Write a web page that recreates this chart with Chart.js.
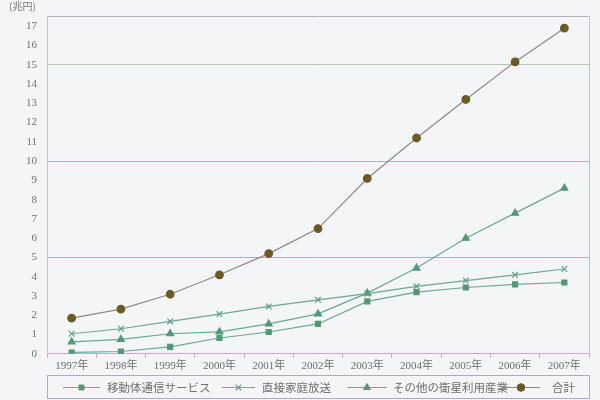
<!DOCTYPE html>
<html>
<head>
<meta charset="utf-8">
<script src="https://cdn.jsdelivr.net/npm/chart.js@4/dist/chart.umd.min.js"></script>
<style>
  html, body { margin: 0; padding: 0; background: #f4f5f6; }
  #wrap { width: 600px; height: 400px; }
</style>
</head>
<body>
<div id="wrap"><canvas id="chart"></canvas></div>
<script>
const years = ['1997年', '1998年', '1999年', '2000年', '2001年', '2002年', '2003年', '2004年', '2005年', '2006年', '2007年'];
const mobile = [0.07, 0.12, 0.36, 0.82, 1.13, 1.55, 2.72, 3.2, 3.44, 3.6, 3.7];
const directTv = [1.04, 1.3, 1.68, 2.06, 2.46, 2.8, 3.12, 3.5, 3.8, 4.1, 4.4];
const otherSat = [0.62, 0.75, 1.04, 1.14, 1.55, 2.07, 3.15, 4.45, 6.0, 7.3, 8.6];
const total = [1.85, 2.32, 3.09, 4.1, 5.2, 6.5, 9.1, 11.2, 13.2, 15.15, 16.9];
const yTicks = [0, 1, 2, 3, 4, 5, 6, 7, 8, 9, 10, 11, 12, 13, 14, 15, 16, 17];
const yMax = 17.5;

const serif = "'Liberation Serif', 'DejaVu Serif', 'Noto Sans CJK JP', serif";
const cjk = "'Noto Sans CJK JP', sans-serif";

// gridlines only at 5, 10, 15 and the top
const gridColors = { 5: '#cf9ccb', 10: '#cf9ccb', 15: '#b2c8b2', 17.5: '#b4aec0' };

// legend sample positions (line start, line length, text start)
const legendItems = [
  { x: 63, len: 37, tx: 107 },
  { x: 222, len: 33, tx: 262 },
  { x: 347, len: 40, tx: 393 },
  { x: 502, len: 38, tx: 552 }
];

new Chart(document.getElementById('chart'), {
  type: 'line',
  data: {
    labels: years,
    datasets: [
      {
        label: '移動体通信サービス',
        data: mobile,
        borderColor: '#6aa894',
        borderWidth: 1.2,
        pointStyle: 'rect',
        pointRadius: 3.5,
        pointBackgroundColor: '#4f9a72',
        pointBorderColor: '#4f9a72'
      },
      {
        label: '直接家庭放送',
        data: directTv,
        borderColor: '#6aa894',
        borderWidth: 1.2,
        pointStyle: 'crossRot',
        pointRadius: 4,
        pointBorderColor: '#5a9e8a',
        pointBorderWidth: 1.2
      },
      {
        label: 'その他の衛星利用産業',
        data: otherSat,
        borderColor: '#6aa894',
        borderWidth: 1.2,
        pointStyle: 'triangle',
        pointRadius: 4,
        pointBackgroundColor: '#4f9a78',
        pointBorderColor: '#4f9a78'
      },
      {
        label: '合計',
        data: total,
        borderColor: '#8c8a84',
        borderWidth: 1.2,
        pointStyle: 'circle',
        pointRadius: 3.8,
        pointBackgroundColor: '#6b5b22',
        pointBorderColor: '#6b5b22'
      }
    ]
  },
  options: {
    responsive: true,
    maintainAspectRatio: false,
    animation: false,
    layout: { padding: { left: 16, right: 11, top: -5, bottom: 25 } },
    plugins: {
      legend: { display: false },
      tooltip: { enabled: false },
      title: { display: false }
    },
    scales: {
      x: {
        offset: true,
        border: { color: '#cba6c9' },
        grid: {
          offset: true,
          drawOnChartArea: false,
          color: '#cba6c9',
          tickLength: 4
        },
        ticks: {
          color: '#6f6f6f',
          font: { family: serif, size: 11 },
          padding: 2,
          maxRotation: 0
        }
      },
      y: {
        min: 0,
        max: yMax,
        border: { color: '#c4c2cc' },
        afterBuildTicks: axis => {
          axis.ticks = yTicks.concat([yMax]).map(v => ({ value: v }));
        },
        grid: {
          drawTicks: false,
          color: c => gridColors[c.tick.value] || 'transparent'
        },
        ticks: {
          color: '#707070',
          padding: 10,
          font: { family: serif, size: 11 },
          callback: v => Number.isInteger(v) ? v : ''
        }
      }
    }
  },
  plugins: [{
    id: 'bg',
    beforeDraw(chart) {
      const ctx = chart.ctx;
      ctx.save();
      ctx.fillStyle = '#f4f5f6';
      ctx.fillRect(0, 0, chart.width, chart.height);
      ctx.restore();
    }
  }, {
    id: 'frameAndLegend',
    afterDraw(chart) {
      const ctx = chart.ctx;
      const area = chart.chartArea;
      ctx.save();
      // unit label
      ctx.fillStyle = '#777777';
      ctx.font = '10px ' + cjk;
      ctx.textBaseline = 'top';
      ctx.fillText('(兆円)', 9, 1);

      // right border of plot
      ctx.strokeStyle = '#c4c2cc';
      ctx.lineWidth = 1;
      ctx.beginPath();
      ctx.moveTo(area.right + 0.5, area.top);
      ctx.lineTo(area.right + 0.5, area.bottom);
      ctx.stroke();

      // legend frame
      const top = 375, bottom = 398;
      ctx.strokeStyle = '#b0a8c0';
      ctx.strokeRect(area.left + 0.5, top + 0.5, area.right - area.left, bottom - top);

      const cy = (top + bottom) / 2 + 1;
      chart.data.datasets.forEach((ds, i) => {
        const it = legendItems[i];
        ctx.strokeStyle = ds.borderColor;
        ctx.lineWidth = 1.2;
        ctx.beginPath();
        ctx.moveTo(it.x, cy);
        ctx.lineTo(it.x + it.len, cy);
        ctx.stroke();
        ctx.fillStyle = ds.pointBackgroundColor || ds.pointBorderColor;
        ctx.strokeStyle = ds.pointBorderColor;
        ctx.lineWidth = ds.pointBorderWidth || 1;
        Chart.helpers.drawPoint(ctx, {
          pointStyle: ds.pointStyle,
          radius: ds.pointRadius,
          borderWidth: ds.pointBorderWidth || 1
        }, it.x + it.len / 2, cy);
        ctx.fillStyle = '#6f6f6f';
        ctx.font = '11.5px ' + cjk;
        ctx.textBaseline = 'middle';
        ctx.textAlign = 'left';
        ctx.fillText(ds.label, it.tx, cy);
      });
      ctx.restore();
    }
  }]
});
</script>
</body>
</html>
